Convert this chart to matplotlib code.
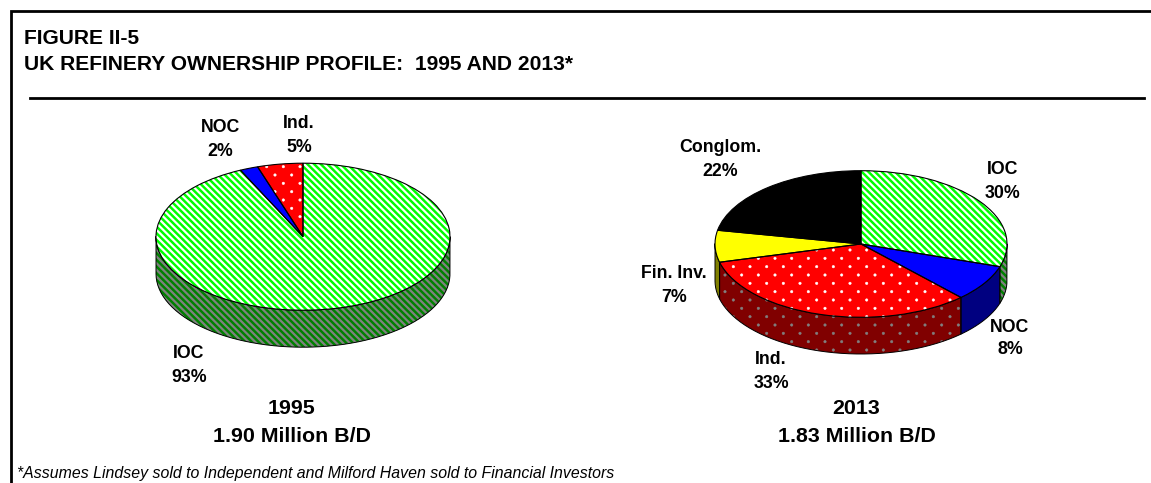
import numpy as np
import matplotlib
matplotlib.use("Agg")
import matplotlib.pyplot as plt
from matplotlib import hatch as mhatch
from matplotlib.path import Path

W, H = 1151, 483
plt.rcParams['font.family'] = ['Liberation Sans', 'DejaVu Sans']


class SparseDots(mhatch.HatchPatternBase):
    """'.' hatch with rows twice as close as the dots within a row."""
    filled = True

    def __init__(self, hatch, density):
        self.rows, self.cols = 12, 6
        self.shape = Path.unit_circle()
        self.pts = []
        if '.' in hatch:
            for r in range(self.rows + 1):
                if r % 2 == 0:
                    xs = np.linspace(0, 1, self.cols + 1)
                else:
                    xs = (np.arange(self.cols) + 0.5) / self.cols
                self.pts += [(x, r / self.rows) for x in xs]
        self.num_vertices = len(self.pts) * len(self.shape.vertices)

    def set_vertices_and_codes(self, vertices, codes):
        n = len(self.shape.vertices)
        for i, (x, y) in enumerate(self.pts):
            vertices[i * n:(i + 1) * n] = self.shape.vertices * 0.012 + (x, y)
            codes[i * n:(i + 1) * n] = self.shape.codes


mhatch._hatch_types[:] = [t for t in mhatch._hatch_types
                          if t is not mhatch.SmallFilledCircles] + [SparseDots]

# data
title_lines = ["FIGURE II-5", "UK REFINERY OWNERSHIP PROFILE:  1995 AND 2013*"]
footnote = "*Assumes Lindsey sold to Independent and Milford Haven sold to Financial Investors"
labels_1995 = ["IOC", "NOC", "Ind."]
values_1995 = [93, 2, 5]
labels_2013 = ["IOC", "NOC", "Ind.", "Fin. Inv.", "Conglom."]
values_2013 = [30, 8, 33, 7, 22]
caption_1995 = ["1995", "1.90 Million B/D"]
caption_2013 = ["2013", "1.83 Million B/D"]

STYLE = {
    "IOC": dict(top="#00FF00", wall="#008000", hatch="\\" * 5, hlw=1.6),
    "NOC": dict(top="#0000FF", wall="#000080", hatch=None),
    "Ind.": dict(top="#FF0000", wall="#800000", hatch=".", hlw=0.4),
    "Fin. Inv.": dict(top="#FFFF00", wall="#808000", hatch=None),
    "Conglom.": dict(top="#000000", wall="#000000", hatch=None),
}

fig = plt.figure(figsize=(W / 100, H / 100), dpi=100)
bg = fig.add_axes([0, 0, 1, 1])
bg.set_xlim(0, W)
bg.set_ylim(H, 0)
bg.axis("off")


def pie3d(cx, cy, rx, ry, depth, labels, values):
    ax = fig.add_axes([(cx - rx) / W, 1 - (cy + ry) / H, 2 * rx / W, 2 * ry / H])
    ax.patch.set_alpha(0)
    d = depth / ry
    total = sum(values)
    edges = 90 - 360 * np.cumsum([0] + list(values)) / total  # clockwise from the top
    # side wall
    for lab, a0, a1 in zip(labels, edges[:-1], edges[1:]):
        st = STYLE[lab]
        for lo, hi in [(a1, a0), (a1 + 360, a0 + 360)]:
            lo2, hi2 = max(lo, 180), min(hi, 360)
            if hi2 <= lo2:
                continue
            t = np.radians(np.linspace(lo2, hi2, 120))
            xs = np.r_[np.cos(t), np.cos(t[::-1])]
            ys = np.r_[np.sin(t), np.sin(t[::-1]) - d]
            ax.fill(xs, ys, facecolor=st["wall"], edgecolor="none", clip_on=False, zorder=1)
            if st["hatch"]:
                plt.rcParams['hatch.linewidth'] = st["hlw"]
                ax.fill(xs, ys, facecolor="none", edgecolor="#808080", hatch=st["hatch"],
                        linewidth=0, clip_on=False, zorder=1.1)
            ax.plot(xs.tolist() + [xs[0]], ys.tolist() + [ys[0]], color="black", lw=0.7,
                    clip_on=False, zorder=1.2)
    # top face: colour, hatch, outline
    colors = [STYLE[l]["top"] for l in labels]
    w1, _ = ax.pie(values, colors=colors, startangle=90, counterclock=False, radius=1,
                   wedgeprops=dict(linewidth=0), frame=False)
    for w in w1:
        w.set_zorder(2)
        w.set_clip_on(False)
    for v, lab in enumerate(labels):
        st = STYLE[lab]
        if not st["hatch"]:
            continue
        plt.rcParams['hatch.linewidth'] = st["hlw"]
        w2, _ = ax.pie(values, startangle=90, counterclock=False, radius=1,
                       wedgeprops=dict(linewidth=0), frame=False)
        for i, w in enumerate(w2):
            w.set_zorder(2.1)
            w.set_clip_on(False)
            if i == v:
                w.set_facecolor("none")
                w.set_edgecolor("white")
                w.set_hatch(st["hatch"])
            else:
                w.set_visible(False)
    w3, _ = ax.pie(values, startangle=90, counterclock=False, radius=1,
                   wedgeprops=dict(fill=False, edgecolor="black", linewidth=0.8), frame=False)
    for w in w3:
        w.set_zorder(2.2)
        w.set_clip_on(False)
    ax.set_aspect("auto")
    ax.set_xlim(-1, 1)
    ax.set_ylim(-1, 1)
    ax.axis("off")
    return ax


pie3d(303, 236.7, 147, 73.5, 37, labels_1995, values_1995)
pie3d(861, 244, 146, 73.3, 36.7, labels_2013, values_2013)

# frame and rule
bg.plot([11, 11, W], [H, 10.5, 10.5], color="black", lw=2.0,
        solid_joinstyle="miter", clip_on=False)
bg.plot([30, 1144], [98, 98], color="black", lw=2.0)

# titles
bg.text(24.5, 36.7, title_lines[0], fontsize=15.1, fontweight="bold", va="center_baseline")
bg.text(24.5, 63, title_lines[1], fontsize=15.1, fontweight="bold", va="center_baseline")
bg.text(17, 472, footnote, fontsize=11.45, fontstyle="italic", va="center_baseline")

lab_kw = dict(fontsize=12.8, fontweight="bold", ha="center", va="center_baseline")
for (x, y1, y2, n, v) in [(220.7, 126, 150, "NOC", values_1995[1]),
                          (299, 122, 145, "Ind.", values_1995[2]),
                          (189, 351, 375, "IOC", values_1995[0]),
                          (1002.7, 167, 191, "IOC", values_2013[0]),
                          (1010, 325, 348, "NOC", values_2013[1]),
                          (771, 357, 382, "Ind.", values_2013[2]),
                          (674, 271, 295, "Fin. Inv.", values_2013[3]),
                          (720, 145, 170, "Conglom.", values_2013[4])]:
    bg.text(x, y1, n, **lab_kw)
    bg.text(x, y2, f"{v}%", **lab_kw)

cap_kw = dict(fontsize=15.4, fontweight="bold", ha="center", va="center_baseline")
for x, cap in [(292, caption_1995), (856.5, caption_2013)]:
    bg.text(x, 407, cap[0], **cap_kw)
    bg.text(x, 435, cap[1], **cap_kw)

fig.savefig("out.png", dpi=100)
